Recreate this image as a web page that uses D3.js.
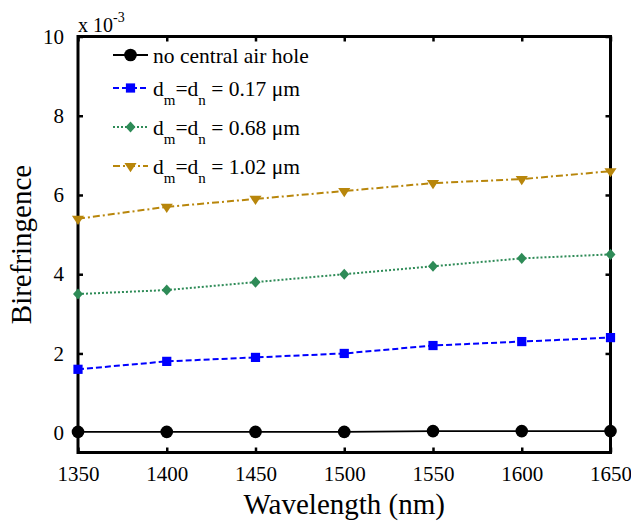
<!DOCTYPE html>
<html>
<head>
<meta charset="utf-8">
<script src="https://cdn.jsdelivr.net/npm/d3@7"></script>
<style>
  html, body { margin: 0; padding: 0; background: #fff; }
  svg { display: block; }
</style>
</head>
<body>
<svg id="chart" width="631" height="525"></svg>
<script>
// Wavelength samples (nm) and birefringence values (×10^-3)
const wavelengths = [1350, 1400, 1450, 1500, 1550, 1600, 1650];
const noHole   = [0.02, 0.02, 0.02, 0.02, 0.04, 0.04, 0.04];
const d017     = [1.6, 1.8, 1.9, 2.0, 2.2, 2.3, 2.4];
const d068     = [3.5, 3.6, 3.8, 4.0, 4.2, 4.4, 4.5];
const d102     = [5.4, 5.7, 5.9, 6.1, 6.3, 6.4, 6.6];
const xTicks = [1350, 1400, 1450, 1500, 1550, 1600, 1650];
const yTicks = [0, 2, 4, 6, 8, 10];
const seriesNames = ["no central air hole", "0.17", "0.68", "1.02"];

const series = [
  { label: seriesNames[0], values: noHole, color: "#000000", dash: null,        marker: "circle" },
  { label: seriesNames[1], values: d017,   color: "#0000ff", dash: "6,3",       marker: "square" },
  { label: seriesNames[2], values: d068,   color: "#2e8b57", dash: "2,2",       marker: "diamond" },
  { label: seriesNames[3], values: d102,   color: "#b8860b", dash: "7,3,2,3",   marker: "triangle" }
];

const FONT = "'Liberation Serif', 'Times New Roman', serif";
const svg = d3.select("#chart").style("font-family", FONT);
const plotL = 78, plotR = 610.5, plotT = 36.5, plotB = 452.5;

const x = d3.scaleLinear().domain([1350, 1650]).range([plotL, plotR]);
const y = d3.scaleLinear().domain([-0.5, 10]).range([plotB, plotT]);

// axes with inward ticks on all four sides
const tickLen = 5;
const styleLabels = g => g.selectAll("text")
  .attr("font-size", 21).attr("fill", "#000").style("font-family", FONT);
svg.append("g").attr("transform", `translate(0,${plotB})`)
  .call(d3.axisBottom(x).tickValues(xTicks).tickFormat(d3.format("d"))
    .tickSizeInner(-tickLen).tickSizeOuter(0).tickPadding(13.5))
  .call(g => g.select(".domain").remove())
  .call(styleLabels);
svg.append("g").attr("transform", `translate(0,${plotT})`)
  .call(d3.axisTop(x).tickValues(xTicks).tickSizeInner(-tickLen).tickSizeOuter(0).tickFormat(""))
  .call(g => g.select(".domain").remove());
svg.append("g").attr("transform", `translate(${plotL},0)`)
  .call(d3.axisLeft(y).tickValues(yTicks).tickFormat(d3.format("d"))
    .tickSizeInner(-tickLen).tickSizeOuter(0).tickPadding(14))
  .call(g => g.select(".domain").remove())
  .call(styleLabels);
svg.append("g").attr("transform", `translate(${plotR},0)`)
  .call(d3.axisRight(y).tickValues(yTicks).tickSizeInner(-tickLen).tickSizeOuter(0).tickFormat(""))
  .call(g => g.select(".domain").remove());
svg.selectAll(".tick line").attr("stroke", "#000").attr("stroke-width", 2.5);

// plot frame
svg.append("rect")
  .attr("x", plotL).attr("y", plotT)
  .attr("width", plotR - plotL).attr("height", plotB - plotT)
  .attr("fill", "none").attr("stroke", "#000").attr("stroke-width", 3);

// marker shapes
const symbolFor = {
  circle:   d3.symbol().type(d3.symbolCircle).size(125),
  square:   d3.symbol().type(d3.symbolSquare).size(85),
  diamond:  d3.symbol().type(d3.symbolDiamond2).size(78),
  triangle: d3.symbol().type(d3.symbolTriangle).size(58)
};
const markerXform = {
  circle: "", square: "", diamond: " scale(0.9,1)", triangle: " rotate(180) scale(1.05,0.92)"
};
function drawMarker(g, s, cx, cy) {
  g.append("path")
    .attr("d", symbolFor[s.marker]())
    .attr("transform", `translate(${cx},${cy})` + markerXform[s.marker])
    .attr("fill", s.color);
}

const line = d3.line();
series.forEach(s => {
  const pts = wavelengths.map((w, i) => [x(w), y(s.values[i])]);
  svg.append("path")
    .attr("d", line(pts))
    .attr("fill", "none")
    .attr("stroke", s.color)
    .attr("stroke-width", s.marker === "circle" ? 1.8 : 2)
    .attr("stroke-dasharray", s.dash);
  const g = svg.append("g");
  pts.forEach(p => drawMarker(g, s, p[0], p[1]));
});

// legend
const legendY = [55, 88, 127, 166];
const legend = svg.append("g");
series.forEach((s, i) => {
  const ly = legendY[i];
  legend.append("line")
    .attr("x1", 113).attr("x2", 148).attr("y1", ly).attr("y2", ly)
    .attr("stroke", s.color).attr("stroke-width", s.marker === "circle" ? 1.8 : 2)
    .attr("stroke-dasharray", s.dash);
  drawMarker(legend, s, 130.5, ly);
  const t = legend.append("text").attr("x", 153).attr("y", ly + 7.5)
    .style("font-family", FONT).attr("font-size", 21.5).attr("fill", "#000");
  if (i === 0) {
    t.text(s.label);
  } else {
    t.append("tspan").text("d");
    t.append("tspan").attr("font-size", 15).attr("dy", 9).text("m");
    t.append("tspan").attr("dy", -9).text("=d");
    t.append("tspan").attr("font-size", 15).attr("dy", 9).text("n");
    t.append("tspan").attr("dy", -9).text(" = " + s.label + " \u03bcm");
  }
});

// exponent note
const expo = svg.append("text").attr("x", 78).attr("y", 32)
  .style("font-family", FONT).attr("font-size", 20).attr("fill", "#000");
expo.append("tspan").text("x 10");
expo.append("tspan").attr("font-size", 14).attr("dy", -10).text("-3");

// axis titles
svg.append("text")
  .attr("x", (plotL + plotR) / 2).attr("y", 514)
  .attr("text-anchor", "middle").style("font-family", FONT).attr("font-size", 29).attr("fill", "#000")
  .text("Wavelength (nm)");
svg.append("text")
  .attr("transform", `translate(31,${(plotT + plotB) / 2}) rotate(-90)`)
  .attr("text-anchor", "middle").style("font-family", FONT).attr("font-size", 29).attr("fill", "#000")
  .text("Birefringence");
</script>
</body>
</html>
